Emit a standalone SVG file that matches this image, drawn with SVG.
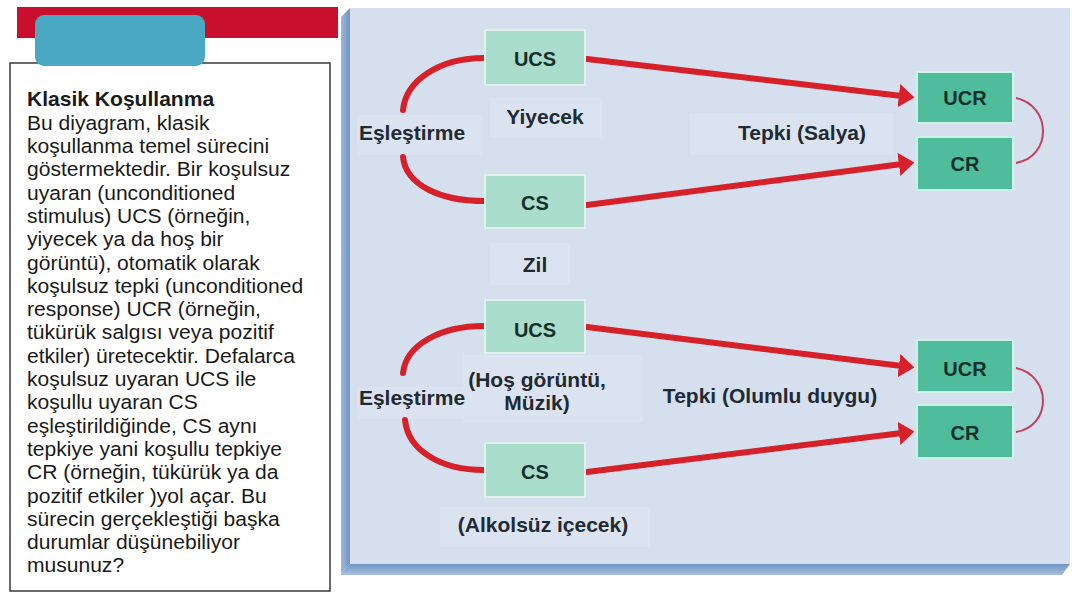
<svg xmlns="http://www.w3.org/2000/svg" width="1072" height="601" viewBox="0 0 1072 601">
<style>
.txt{font-family:"Liberation Sans",Arial,sans-serif;font-size:19.5px;fill:#1a1a1a}
.ttl{font-weight:bold}
.lbl{font-family:"Liberation Sans",Arial,sans-serif;font-size:21px;font-weight:bold;fill:#1f2a33;text-anchor:middle}
.nt{font-family:"Liberation Sans",Arial,sans-serif;font-size:20px;font-weight:bold;fill:#14302a;text-anchor:middle}
.lb{fill:#dbe3f0}
.s{fill:#a9dcca;stroke:#dff3ec;stroke-width:2}
.r{fill:#4fbc9c;stroke:#cdf2e6;stroke-width:2}
.ln{fill:none;stroke:#d6202a;stroke-width:6;stroke-linecap:round}
.arc{fill:none;stroke:#c2405c;stroke-width:2}
</style>
<defs>
<marker id="ah" viewBox="0 0 10 15" refX="2" refY="7.5" markerWidth="2.6" markerHeight="3.9" markerUnits="strokeWidth" orient="auto">
<path d="M0 0 L10 7.5 L0 15 Z" fill="#d6202a"/>
</marker>
<linearGradient id="gl" x1="0" y1="0" x2="1" y2="0">
<stop offset="0" stop-color="#9fb8da"/><stop offset="1" stop-color="#6f93c4"/>
</linearGradient>
<linearGradient id="gb" x1="0" y1="0" x2="0" y2="1">
<stop offset="0" stop-color="#6f93c4"/><stop offset="1" stop-color="#a9c0de"/>
</linearGradient>
</defs>
<rect width="1072" height="601" fill="#ffffff"/>
<!-- left info panel -->
<rect x="17" y="7" width="321" height="31" fill="#c8102e"/>
<rect x="10" y="63" width="320" height="528" fill="#ffffff" stroke="#3a3a3a" stroke-width="1.5"/>
<rect x="35" y="15" width="170" height="51" rx="9" fill="#4aa8c2"/>
<g transform="scale(1.08,1)">
<text class="txt" x="25" y="106.5"><tspan class="ttl">Klasik Koşullanma</tspan>
<tspan x="25" dy="23.3">Bu diyagram, klasik</tspan>
<tspan x="25" dy="23.3">koşullanma temel sürecini</tspan>
<tspan x="25" dy="23.3">göstermektedir. Bir koşulsuz</tspan>
<tspan x="25" dy="23.3">uyaran (unconditioned</tspan>
<tspan x="25" dy="23.3">stimulus) UCS (örneğin,</tspan>
<tspan x="25" dy="23.3">yiyecek ya da hoş bir</tspan>
<tspan x="25" dy="23.3">görüntü), otomatik olarak</tspan>
<tspan x="25" dy="23.3">koşulsuz tepki  (unconditioned</tspan>
<tspan x="25" dy="23.3">response) UCR (örneğin,</tspan>
<tspan x="25" dy="23.3">tükürük salgısı veya pozitif</tspan>
<tspan x="25" dy="23.3">etkiler) üretecektir. Defalarca</tspan>
<tspan x="25" dy="23.3">koşulsuz uyaran UCS ile</tspan>
<tspan x="25" dy="23.3">koşullu uyaran CS</tspan>
<tspan x="25" dy="23.3">eşleştirildiğinde, CS aynı</tspan>
<tspan x="25" dy="23.3">tepkiye yani koşullu tepkiye</tspan>
<tspan x="25" dy="23.3">CR (örneğin, tükürük ya da</tspan>
<tspan x="25" dy="23.3">pozitif etkiler )yol açar. Bu</tspan>
<tspan x="25" dy="23.3">sürecin gerçekleştiği başka</tspan>
<tspan x="25" dy="23.3">durumlar düşünebiliyor</tspan>
<tspan x="25" dy="23.3">musunuz?</tspan></text>
</g>
<!-- diagram panel -->
<rect x="350" y="8" width="720" height="556" fill="#d5dfee"/>
<path d="M341 17 L350 8 L350 564 L341 573 Z" fill="url(#gl)"/>
<path d="M341 573 L350 564 L1070 564 L1062 575 L341 575 Z" fill="url(#gb)"/>
<!-- faint label backgrounds -->
<rect class="lb" x="357" y="115" width="126" height="40"/>
<rect class="lb" x="490" y="98" width="112" height="40"/>
<rect class="lb" x="690" y="113" width="203" height="42"/>
<rect class="lb" x="490" y="243" width="80" height="42"/>
<rect class="lb" x="357" y="387" width="113" height="32"/>
<rect class="lb" x="463" y="355" width="180" height="67"/>
<rect class="lb" x="440" y="507" width="210" height="40"/>
<!-- connectors -->
<g id="connectors">
<path class="ln" d="M484 58 C440 58 406 80 403 110"/>
<path class="ln" d="M403 157 C406 185 440 201 484 201"/>
<path class="ln" d="M587 59 L902 96" marker-end="url(#ah)"/>
<path class="ln" d="M587 205 L902 164" marker-end="url(#ah)"/>
<path class="arc" d="M1016 98 C1052 106 1052 157 1016 163"/>
<path class="ln" d="M484 326 C440 326 406 345 403 373"/>
<path class="ln" d="M405 420 C408 450 440 470 484 470"/>
<path class="ln" d="M587 327 L902 366" marker-end="url(#ah)"/>
<path class="ln" d="M587 472 L902 433" marker-end="url(#ah)"/>
<path class="arc" d="M1016 368 C1052 376 1052 426 1016 432"/>
</g>
<!-- top group -->
<g id="ucs1"><rect class="s" x="485" y="30" width="100" height="55"/><text class="nt" x="535" y="66">UCS</text></g>
<g id="cs1"><rect class="s" x="485" y="175" width="100" height="53"/><text class="nt" x="535" y="210">CS</text></g>
<g id="ucr1"><rect class="r" x="917" y="72" width="96" height="51"/><text class="nt" x="965" y="105">UCR</text></g>
<g id="cr1"><rect class="r" x="917" y="137" width="96" height="53"/><text class="nt" x="965" y="171">CR</text></g>
<g id="labels1">
<text class="lbl" x="412" y="140">Eşleştirme</text>
<text class="lbl" x="545" y="124">Yiyecek</text>
<text class="lbl" x="802" y="140">Tepki (Salya)</text>
<text class="lbl" x="535" y="272">Zil</text>
</g>
<!-- bottom group -->
<g id="ucs2"><rect class="s" x="485" y="300" width="100" height="53"/><text class="nt" x="535" y="337">UCS</text></g>
<g id="cs2"><rect class="s" x="485" y="443" width="100" height="54"/><text class="nt" x="535" y="479">CS</text></g>
<g id="ucr2"><rect class="r" x="917" y="340" width="96" height="52"/><text class="nt" x="965" y="376">UCR</text></g>
<g id="cr2"><rect class="r" x="917" y="405" width="96" height="53"/><text class="nt" x="965" y="440">CR</text></g>
<g id="labels2">
<text class="lbl" x="412" y="405">Eşleştirme</text>
<text class="lbl" x="537" y="387">(Hoş görüntü,</text>
<text class="lbl" x="537" y="410">Müzik)</text>
<text class="lbl" x="770" y="403">Tepki (Olumlu duygu)</text>
<text class="lbl" x="543" y="532">(Alkolsüz içecek)</text>
</g>
</svg>
